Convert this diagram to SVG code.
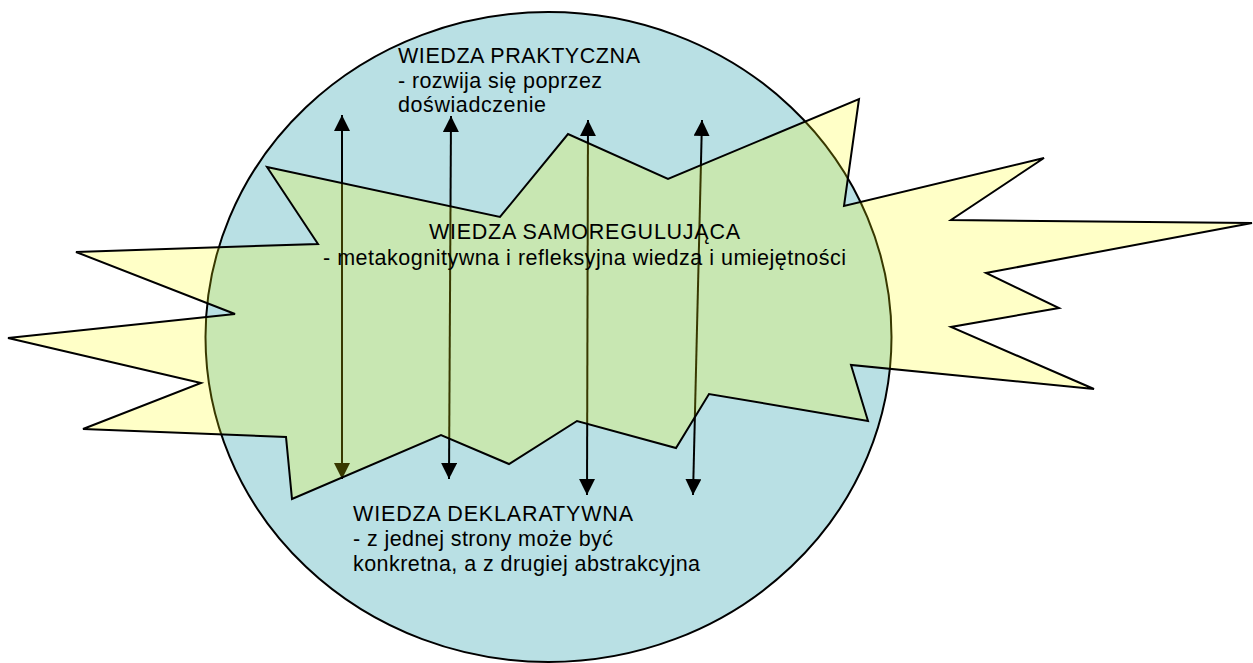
<svg xmlns="http://www.w3.org/2000/svg" width="1253" height="663" viewBox="0 0 1253 663">
<defs>
<marker id="ah" viewBox="0 0 16 16" refX="16" refY="8" markerWidth="16" markerHeight="16" markerUnits="userSpaceOnUse" orient="auto-start-reverse">
<path d="M0,0 L16,8 L0,16 Z" fill="#000"/>
</marker>
</defs>
<style>
.t{font-family:"Liberation Sans",Arial,sans-serif;font-size:21.5px;fill:#000}
.arr{stroke:#000;stroke-width:2;fill:none}
</style>
<rect width="1253" height="663" fill="#fff"/>
<g id="circle">
<ellipse cx="548.5" cy="337" rx="343" ry="325" fill="#b9e0e4" stroke="#000" stroke-width="2"/>
</g>
<g id="connectors">
<line class="arr" x1="342" y1="115" x2="342" y2="479" marker-start="url(#ah)" marker-end="url(#ah)"/>
<line class="arr" x1="451" y1="116" x2="449" y2="479" marker-start="url(#ah)" marker-end="url(#ah)"/>
<line class="arr" x1="588" y1="120" x2="587" y2="495" marker-start="url(#ah)" marker-end="url(#ah)"/>
<line class="arr" x1="702" y1="120" x2="693" y2="495" marker-start="url(#ah)" marker-end="url(#ah)"/>
</g>
<g id="burst">
<polygon points="267,167 318,244 76,252 235,314 8,338 201,383 83,429 286,437 292,499 441,435 509,464 577,421 676,448 709,394 868,421 851,365 1094,389 951,327 1059,308 986,273 1252,223 951,220 1044,158 844,206 859,99 668,179 568,134 500,217" fill="#ffff00" fill-opacity="0.22" stroke="#000" stroke-width="2" stroke-linejoin="miter"/>
</g>
<g id="practical">
<text class="t" x="398" y="63" textLength="242" lengthAdjust="spacing">WIEDZA PRAKTYCZNA</text>
<text class="t" x="398" y="88" textLength="204" lengthAdjust="spacing">- rozwija się poprzez</text>
<text class="t" x="398" y="112" textLength="148" lengthAdjust="spacing">doświadczenie</text>
</g>
<g id="selfreg">
<text class="t" x="429" y="239" textLength="311" lengthAdjust="spacing">WIEDZA SAMOREGULUJĄCA</text>
<text class="t" x="323" y="265" textLength="523" lengthAdjust="spacing">- metakognitywna i refleksyjna wiedza i umiejętności</text>
</g>
<g id="declarative">
<text class="t" x="353" y="521" textLength="280" lengthAdjust="spacing">WIEDZA DEKLARATYWNA</text>
<text class="t" x="353" y="546" textLength="260" lengthAdjust="spacing">- z jednej strony może być</text>
<text class="t" x="353" y="571" textLength="347" lengthAdjust="spacing">konkretna, a z drugiej abstrakcyjna</text>
</g>
</svg>
